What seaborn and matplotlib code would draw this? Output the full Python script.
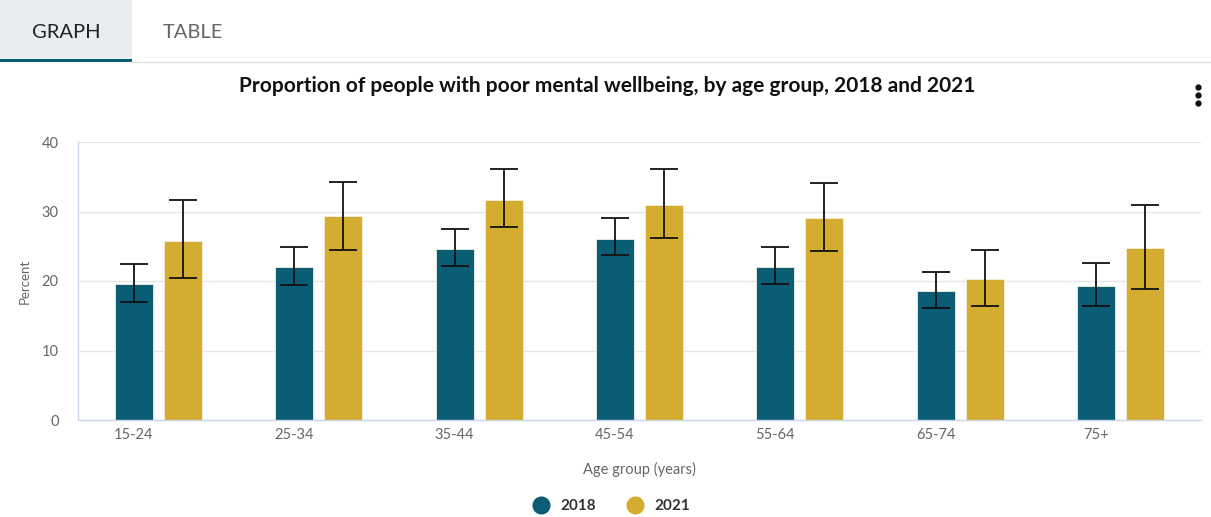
import matplotlib as mpl

mpl.use("Agg")

import matplotlib.pyplot as plt
import seaborn as sns
import numpy as np
import pandas as pd
from matplotlib.patches import Rectangle
from matplotlib.lines import Line2D

age_groups = ["15-24", "25-34", "35-44", "45-54", "55-64", "65-74", "75+"]
years = ["2018", "2021"]
pct_2018 = [19.5, 22.0, 24.6, 26.1, 22.0, 18.6, 19.3]
low_2018 = [17.0, 19.4, 22.1, 23.7, 19.6, 16.1, 16.4]
high_2018 = [22.4, 24.9, 27.5, 29.0, 24.9, 21.3, 22.6]
pct_2021 = [25.8, 29.3, 31.7, 31.0, 29.1, 20.3, 24.8]
low_2021 = [20.4, 24.5, 27.7, 26.2, 24.3, 16.4, 18.9]
high_2021 = [31.7, 34.2, 36.1, 36.1, 34.1, 24.5, 30.9]

colors = {"2018": "#0a5d74", "2021": "#d3ac30"}

df = pd.DataFrame(
    {
        "age": age_groups * 2,
        "year": ["2018"] * 7 + ["2021"] * 7,
        "pct": pct_2018 + pct_2021,
        "low": low_2018 + low_2021,
        "high": high_2018 + high_2021,
    }
)

sns.set_theme(style="white")
plt.rcParams["font.family"] = ["Lato", "DejaVu Sans"]

W, H = 1211, 517
fig = plt.figure(figsize=(W / 100, H / 100), dpi=100)
ax = fig.add_axes([78 / W, 1 - 420 / H, (1201 - 78) / W, (420 - 142) / H])

sns.barplot(
    data=df, x="age", y="pct", hue="year", order=age_groups, hue_order=years,
    palette=colors, saturation=1, width=0.612, gap=0.225, errorbar=None, ax=ax,
    edgecolor="#f4f0e0", linewidth=0.6, legend=False,
)

# error bars placed on the centres of the bars seaborn drew
for bars, yr in zip(ax.containers, years):
    sub = df[df["year"] == yr].set_index("age").loc[age_groups]
    xs = [b.get_x() + b.get_width() / 2 for b in bars]
    ax.errorbar(
        xs, sub["pct"], yerr=[sub["pct"] - sub["low"], sub["high"] - sub["pct"]],
        fmt="none", ecolor="#111111", elinewidth=1.3, capsize=10, capthick=1.3,
        zorder=5,
    )

ax.set_ylim(0, 40)
ax.set_xlim(-0.5, 6.5)
ax.set_yticks([0, 10, 20, 30, 40])
ax.yaxis.grid(True, color="#e6e6e6", linewidth=1)
ax.set_axisbelow(True)
ax.tick_params(axis="y", length=0, pad=14, labelsize=10.5, labelcolor="#666666")

xs = np.arange(len(age_groups))
ax.set_xticks(xs, labels=[""] * len(xs))
ax.tick_params(axis="x", which="major", length=10, width=1, color="#ccd6eb", direction="out")
ax.set_xticks(xs - 0.153, labels=age_groups, minor=True)
ax.tick_params(axis="x", which="minor", length=0, pad=6, labelsize=10.5, labelcolor="#666666")

for side in ["top", "right"]:
    ax.spines[side].set_visible(False)
for side in ["left", "bottom"]:
    ax.spines[side].set_color("#ccd6eb")
    ax.spines[side].set_linewidth(1)

ax.set_xlabel("Age group (years)", fontsize=10.5, color="#666666", labelpad=14)
ax.set_ylabel("Percent", fontsize=9.5, color="#666666", labelpad=8)

fig.text(607 / W, 1 - 86 / H, "Proportion of people with poor mental wellbeing, by age group, 2018 and 2021",
         ha="center", va="center", fontsize=15, fontweight="bold", color="#111111")

# tabs on top
fig.add_artist(Rectangle((0, 1 - 60 / H), 132 / W, 60 / H, transform=fig.transFigure,
                         facecolor="#e8edf1", edgecolor="none"))
fig.add_artist(Rectangle((0, 1 - 62 / H), 132 / W, 3 / H, transform=fig.transFigure,
                         facecolor="#0a5d74", edgecolor="none"))
fig.add_artist(Line2D([132 / W, 1], [1 - 62 / H, 1 - 62 / H], transform=fig.transFigure,
                      color="#e0e0e0", linewidth=1))
fig.text(66 / W, 1 - 32 / H, "GRAPH", ha="center", va="center", fontsize=14.5, color="#222222")
fig.text(193 / W, 1 - 32 / H, "TABLE", ha="center", va="center", fontsize=14.5, color="#666666")

# menu dots
for yy in [87, 95, 103]:
    fig.add_artist(Line2D([1198 / W], [1 - yy / H], transform=fig.transFigure, marker="o",
                          markersize=3.5, color="#111111", linestyle="none"))

handles = [Line2D([], [], marker="o", linestyle="none", markersize=12,
                  markerfacecolor=colors[y], markeredgecolor=colors[y]) for y in years]
leg = fig.legend(handles, years, loc="center", bbox_to_anchor=(608 / W, 1 - 506 / H), ncol=2,
                 frameon=False, handletextpad=0.3, columnspacing=1.5, prop={"weight": "bold", "size": 11})
for t in leg.get_texts():
    t.set_color("#333333")

fig.savefig("out.png", dpi=100)
